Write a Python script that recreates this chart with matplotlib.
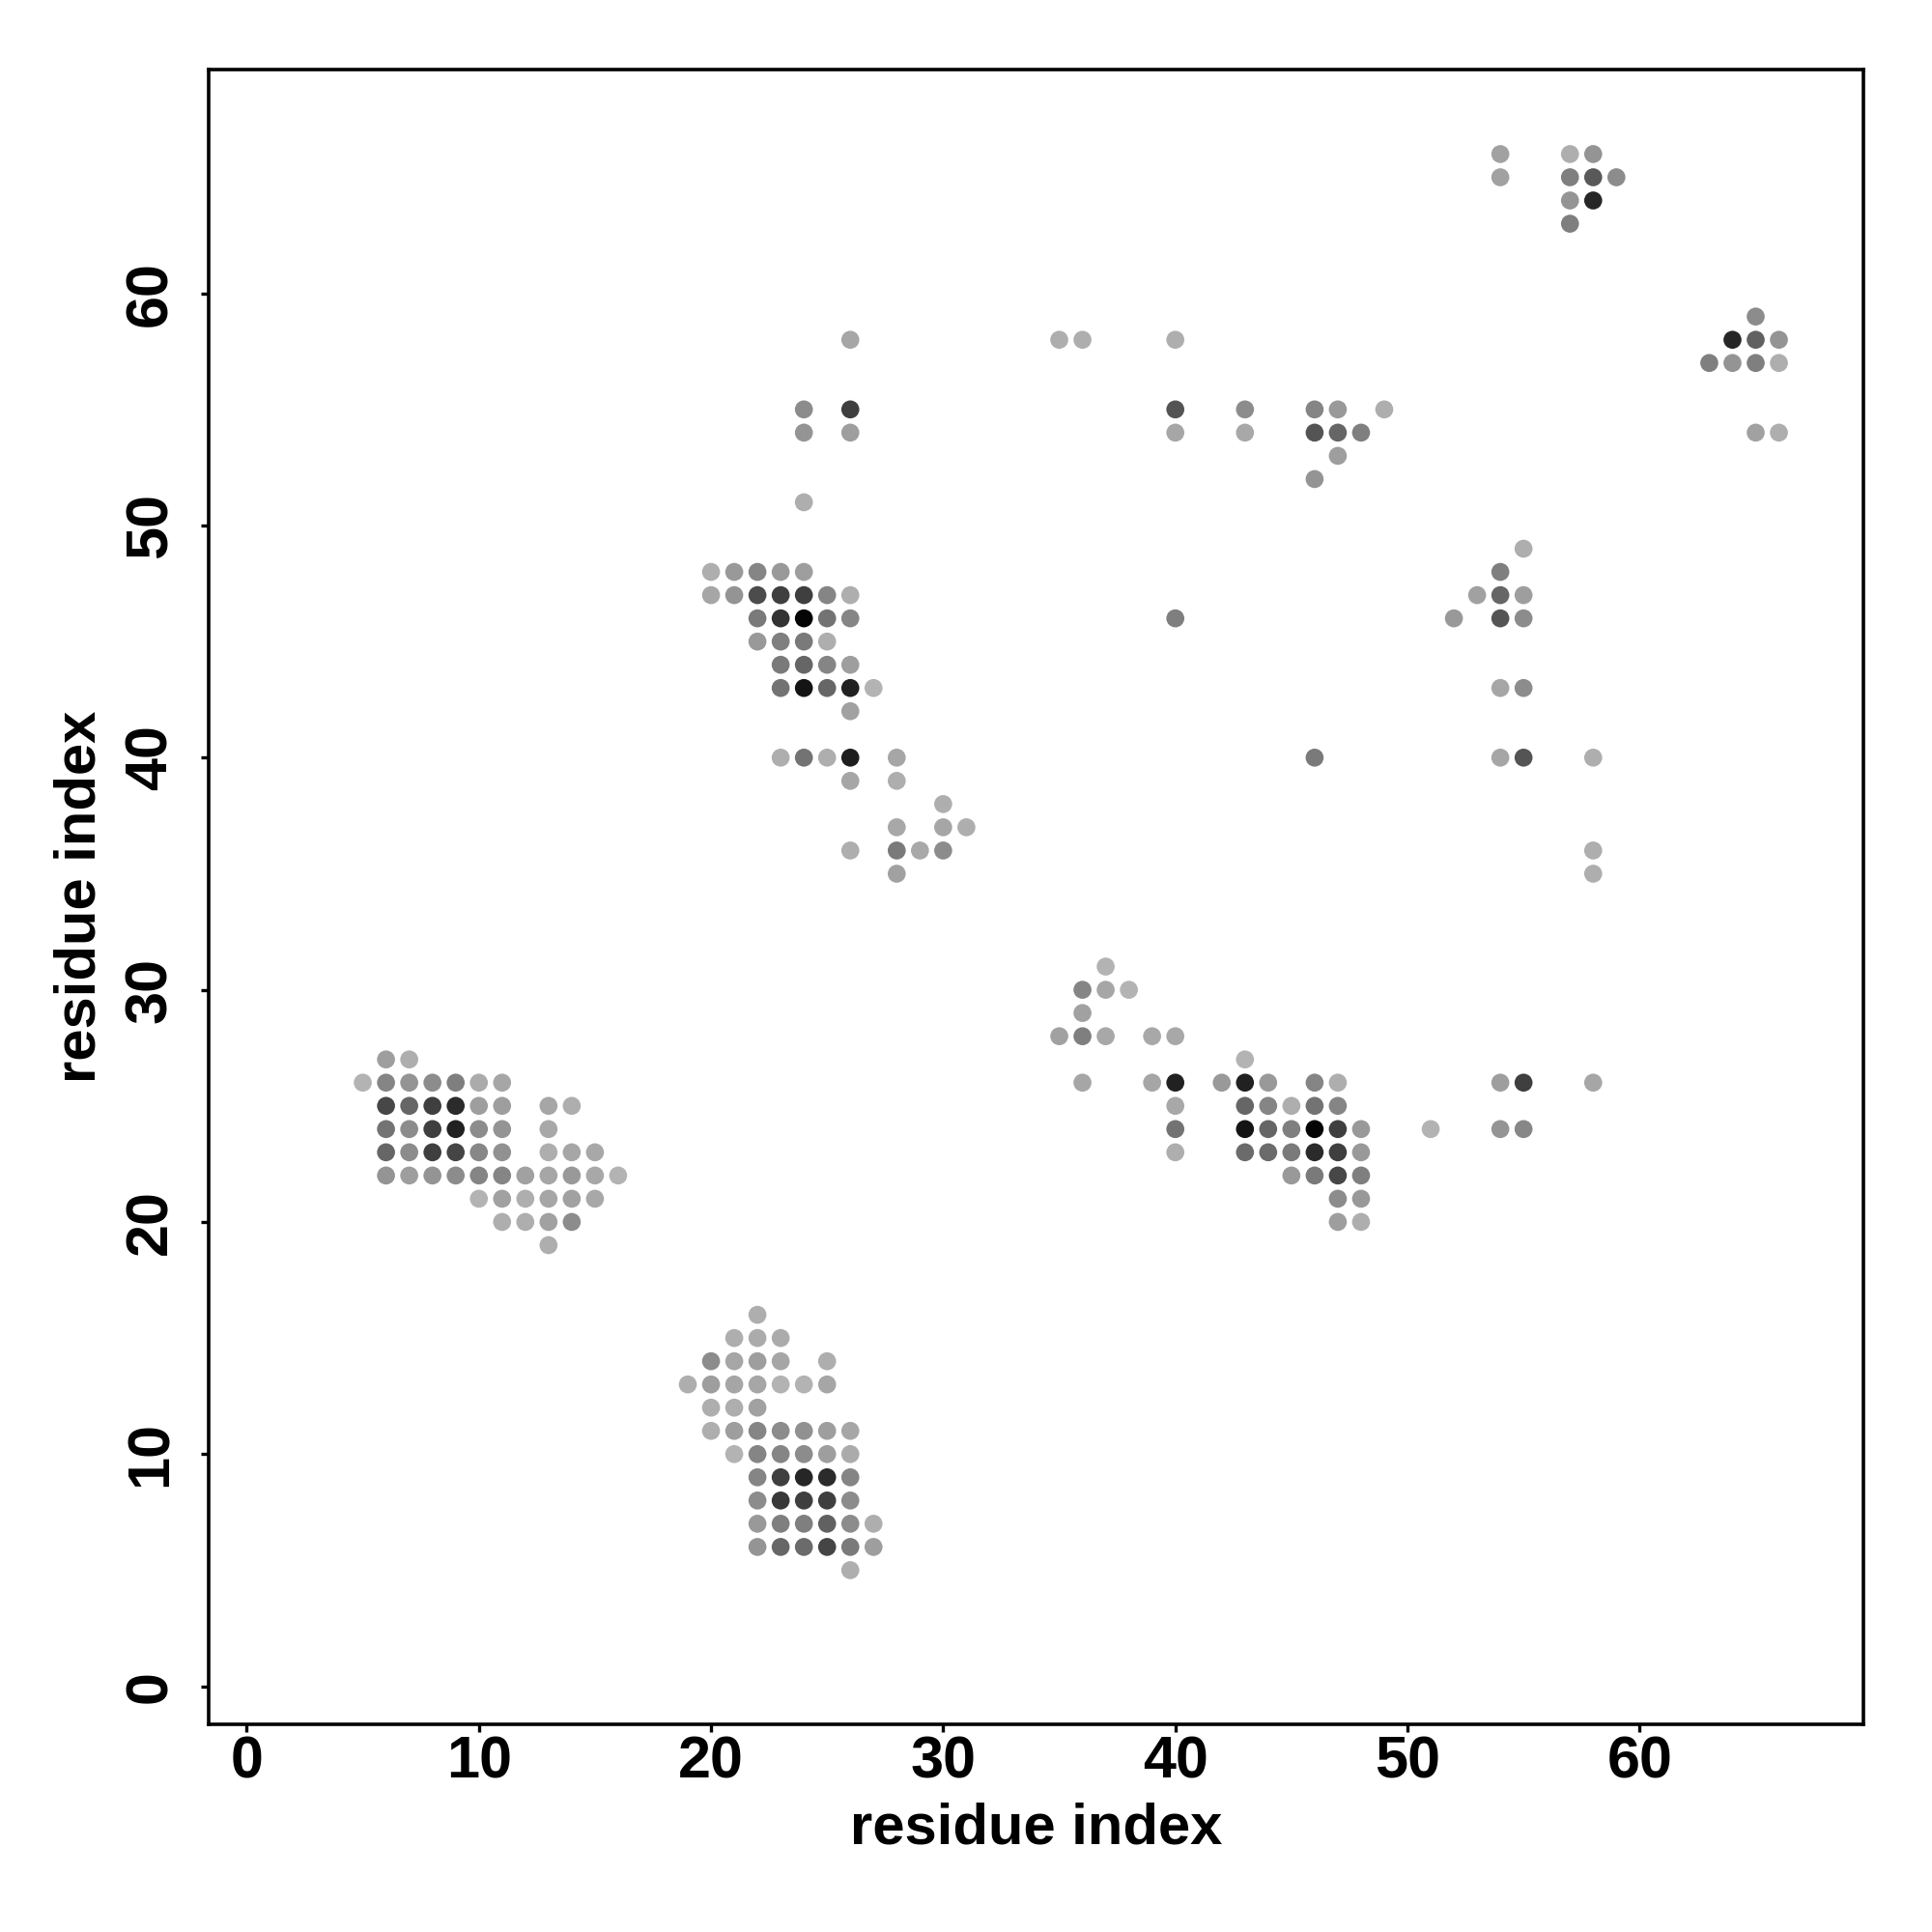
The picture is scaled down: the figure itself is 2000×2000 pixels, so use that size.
import matplotlib
matplotlib.use("Agg")
import matplotlib.pyplot as plt
import numpy as np

# contact map: residue i, residue j, contact strength (0 = white, 1 = black)
res_i = [
    # block near (8, 24)
    6, 7,
    5, 6, 7, 8, 9, 10, 11,
    6, 7, 8, 9, 10, 11, 13, 14,
    6, 7, 8, 9, 10, 11, 13,
    6, 7, 8, 9, 10, 11, 13, 14, 15,
    6, 7, 8, 9, 10, 11, 12, 13, 14, 15, 16,
    10, 11, 12, 13, 14, 15,
    11, 12, 13, 14,
    13,
    # block near (23, 10)
    22,
    21, 22, 23,
    20, 21, 22, 23, 25,
    19, 20, 21, 22, 23, 24, 25,
    20, 21, 22,
    20, 21, 22, 23, 24, 25, 26,
    21, 22, 23, 24, 25, 26,
    22, 23, 24, 25, 26,
    22, 23, 24, 25, 26,
    22, 23, 24, 25, 26, 27,
    22, 23, 24, 25, 26, 27,
    26,
    # block near (24, 45)
    20, 21, 22, 23, 24,
    20, 21, 22, 23, 24, 25, 26,
    22, 23, 24, 25, 26,
    22, 23, 24, 25,
    23, 24, 25, 26,
    23, 24, 25, 26, 27,
    26,
    23, 24, 25, 26, 28,
    26, 28,
    30,
    28, 30, 31,
    26, 28, 29, 30,
    28,
    # around (25, 55)
    26, 24, 26, 24, 26, 24,
    # block near (44, 24)
    37,
    36, 37, 38,
    36,
    35, 36, 37, 39, 40,
    43,
    36, 39, 40, 42, 43, 44, 46, 47,
    40, 43, 44, 45, 46, 47,
    40, 43, 44, 45, 46, 47, 48, 51,
    40, 43, 44, 45, 46, 47, 48,
    45, 46, 47, 48,
    47, 48,
    47, 48,
    # row 58 / 55 / 54 group
    35, 36, 40,
    40, 43, 46, 47, 49,
    40, 43, 46, 47, 48,
    47, 46,
    40, 46,
    # block near (54, 46)
    55,
    54,
    53, 54, 55,
    52, 54, 55,
    54, 55,
    54, 55, 58,
    58, 58,
    54, 55, 58,
    54, 55,
    # top right
    54, 57, 58,
    54, 57, 58, 59,
    57, 58,
    57,
    65,
    64, 65, 66,
    63, 64, 65, 66,
    65, 66,
]

res_j = [
    27, 27,
    26, 26, 26, 26, 26, 26, 26,
    25, 25, 25, 25, 25, 25, 25, 25,
    24, 24, 24, 24, 24, 24, 24,
    23, 23, 23, 23, 23, 23, 23, 23, 23,
    22, 22, 22, 22, 22, 22, 22, 22, 22, 22, 22,
    21, 21, 21, 21, 21, 21,
    20, 20, 20, 20,
    19,
    16,
    15, 15, 15,
    14, 14, 14, 14, 14,
    13, 13, 13, 13, 13, 13, 13,
    12, 12, 12,
    11, 11, 11, 11, 11, 11, 11,
    10, 10, 10, 10, 10, 10,
    9, 9, 9, 9, 9,
    8, 8, 8, 8, 8,
    7, 7, 7, 7, 7, 7,
    6, 6, 6, 6, 6, 6,
    5,
    48, 48, 48, 48, 48,
    47, 47, 47, 47, 47, 47, 47,
    46, 46, 46, 46, 46,
    45, 45, 45, 45,
    44, 44, 44, 44,
    43, 43, 43, 43, 43,
    42,
    40, 40, 40, 40, 40,
    39, 39,
    38,
    37, 37, 37,
    36, 36, 36, 36,
    35,
    58, 55, 55, 54, 54, 51,
    31,
    30, 30, 30,
    29,
    28, 28, 28, 28, 28,
    27,
    26, 26, 26, 26, 26, 26, 26, 26,
    25, 25, 25, 25, 25, 25,
    24, 24, 24, 24, 24, 24, 24, 24,
    23, 23, 23, 23, 23, 23, 23,
    22, 22, 22, 22,
    21, 21,
    20, 20,
    58, 58, 58,
    55, 55, 55, 55, 55,
    54, 54, 54, 54, 54,
    53, 52,
    46, 40,
    49,
    48,
    47, 47, 47,
    46, 46, 46,
    43, 43,
    40, 40, 40,
    36, 35,
    26, 26, 26,
    24, 24,
    66, 66, 66,
    65, 65, 65, 65,
    64, 64,
    63,
    59,
    58, 58, 58,
    57, 57, 57, 57,
    54, 54,
]

strength = [
    0.38, 0.32,
    0.30, 0.48, 0.42, 0.45, 0.50, 0.33, 0.35,
    0.72, 0.60, 0.75, 0.83, 0.38, 0.38, 0.35, 0.32,
    0.55, 0.45, 0.75, 0.87, 0.45, 0.42, 0.34,
    0.60, 0.45, 0.75, 0.73, 0.47, 0.43, 0.32, 0.35, 0.34,
    0.42, 0.38, 0.42, 0.45, 0.48, 0.48, 0.37, 0.35, 0.40, 0.34, 0.30,
    0.30, 0.37, 0.32, 0.35, 0.37, 0.34,
    0.32, 0.32, 0.37, 0.45,
    0.32,
    0.32,
    0.32, 0.33, 0.33,
    0.45, 0.35, 0.38, 0.35, 0.32,
    0.32, 0.38, 0.35, 0.35, 0.30, 0.30, 0.35,
    0.32, 0.32, 0.37,
    0.32, 0.38, 0.48, 0.45, 0.43, 0.38, 0.35,
    0.30, 0.48, 0.48, 0.45, 0.38, 0.33,
    0.48, 0.75, 0.85, 0.83, 0.48,
    0.45, 0.78, 0.75, 0.75, 0.45,
    0.40, 0.50, 0.50, 0.62, 0.45, 0.32,
    0.42, 0.60, 0.58, 0.73, 0.52, 0.38,
    0.32,
    0.32, 0.40, 0.48, 0.40, 0.38,
    0.35, 0.42, 0.70, 0.75, 0.75, 0.48, 0.32,
    0.52, 0.80, 0.98, 0.55, 0.48,
    0.40, 0.50, 0.52, 0.32,
    0.52, 0.60, 0.48, 0.38,
    0.55, 0.92, 0.60, 0.87, 0.30,
    0.37,
    0.32, 0.55, 0.32, 0.88, 0.35,
    0.35, 0.32,
    0.32,
    0.34, 0.35, 0.32,
    0.32, 0.52, 0.34, 0.45,
    0.37,
    0.35, 0.45, 0.75, 0.42, 0.38, 0.32,
    0.30,
    0.48, 0.35, 0.30,
    0.37,
    0.37, 0.50, 0.34, 0.34, 0.34,
    0.30,
    0.35, 0.35, 0.87, 0.40, 0.87, 0.40, 0.48, 0.32,
    0.34, 0.60, 0.48, 0.32, 0.55, 0.48,
    0.55, 0.92, 0.60, 0.50, 0.98, 0.75, 0.40, 0.30,
    0.32, 0.58, 0.58, 0.52, 0.83, 0.75, 0.40,
    0.40, 0.52, 0.72, 0.50,
    0.45, 0.40,
    0.38, 0.32,
    0.32, 0.32, 0.32,
    0.67, 0.45, 0.48, 0.40, 0.32,
    0.35, 0.34, 0.67, 0.60, 0.50,
    0.38, 0.42,
    0.50, 0.52,
    0.32,
    0.50,
    0.37, 0.60, 0.38,
    0.40, 0.67, 0.45,
    0.35, 0.45,
    0.35, 0.67, 0.32,
    0.32, 0.32,
    0.38, 0.75, 0.35,
    0.42, 0.47,
    0.37, 0.32, 0.42,
    0.37, 0.50, 0.65, 0.45,
    0.42, 0.85,
    0.50,
    0.45,
    0.85, 0.62, 0.42,
    0.50, 0.42, 0.50, 0.32,
    0.37, 0.32,
]

n_res = 67
ticks = [0, 10, 20, 30, 40, 50, 60]

plt.rcParams['font.family'] = ['Liberation Sans', 'DejaVu Sans']
plt.rcParams['font.weight'] = 'bold'

fig = plt.figure(figsize=(10, 10), dpi=200)
ax = fig.add_axes([0.108, 0.1075, 0.8565, 0.8565])

ax.scatter(res_i, res_j, c=strength, cmap='gray_r', vmin=0, vmax=1,
           s=45, linewidths=0, marker='o')

# R-style 4% padding around residues 1..n
pad = 0.04 * (n_res - 1)
ax.set_xlim(1 - pad, n_res + pad)
ax.set_ylim(1 - pad, n_res + pad)

ax.set_xticks(ticks)
ax.set_yticks(ticks)
ax.tick_params(axis='both', direction='out', length=3, width=1.2,
               labelsize=22)
ax.tick_params(axis='x', pad=1)
ax.tick_params(axis='y', pad=8)
for lab in ax.get_yticklabels():
    lab.set_rotation(90)
    lab.set_va('center')

for sp in ax.spines.values():
    sp.set_linewidth(1.3)

ax.set_xlabel('residue index', fontsize=21.5, fontweight='bold', labelpad=4.5)
ax.set_ylabel('residue index', fontsize=21.5, fontweight='bold', labelpad=6.5)

fig.savefig('out.png', dpi=200, facecolor='white')
